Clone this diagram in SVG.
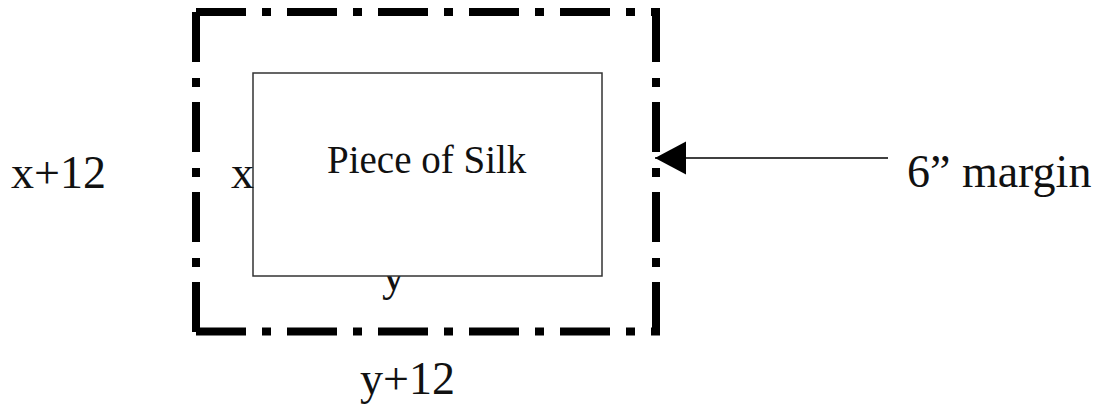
<svg xmlns="http://www.w3.org/2000/svg" width="1100" height="404" viewBox="0 0 1100 404">
  <style>
    .lbl { font-family: "Liberation Serif", "Times New Roman", serif; fill: #111; }
    .big { font-size: 46px; }
    .frame { fill: none; stroke: #000; stroke-width: 8; stroke-linecap: butt; }
    .h { stroke-dasharray: 50 16 9 16; }
    .v { stroke-dasharray: 50 16 9 15; }
    .conn { stroke: #000; stroke-width: 1.5; fill: none; }
  </style>
  <defs>
    <marker id="arrowhead" markerUnits="userSpaceOnUse" markerWidth="32" markerHeight="34" refX="31" refY="16.5" orient="auto">
      <path d="M0,0 L31,16.5 L0,33 Z" fill="#000"/>
    </marker>
  </defs>

  <rect width="1100" height="404" fill="#fff"/>

  <!-- dash-dot margin outline, each side drawn from its corner -->
  <g id="margin-frame">
    <path class="frame h" d="M196,12 H660"/>
    <path class="frame h" d="M196,331.5 H660"/>
    <path class="frame v" d="M196,12 V335.5"/>
    <path class="frame v" d="M656,12 V335.5"/>
  </g>

  <!-- width label, partly hidden under the silk panel -->
  <text class="lbl big" x="382" y="290">y</text>

  <g id="silk">
    <rect x="253" y="73" width="349" height="203" fill="#fff" stroke="#333" stroke-width="1.5"/>
    <text class="lbl" x="327" y="173" font-size="39">Piece of Silk</text>
  </g>

  <g id="labels">
    <text class="lbl big" x="231" y="188">x</text>
    <text class="lbl big" x="11" y="188">x+12</text>
    <text class="lbl big" x="360" y="394">y+12</text>
    <text class="lbl big" x="907" y="187">6” margin</text>
  </g>

  <g id="connectors">
    <line class="conn" x1="888" y1="158" x2="655" y2="158" marker-end="url(#arrowhead)"/>
  </g>
</svg>
